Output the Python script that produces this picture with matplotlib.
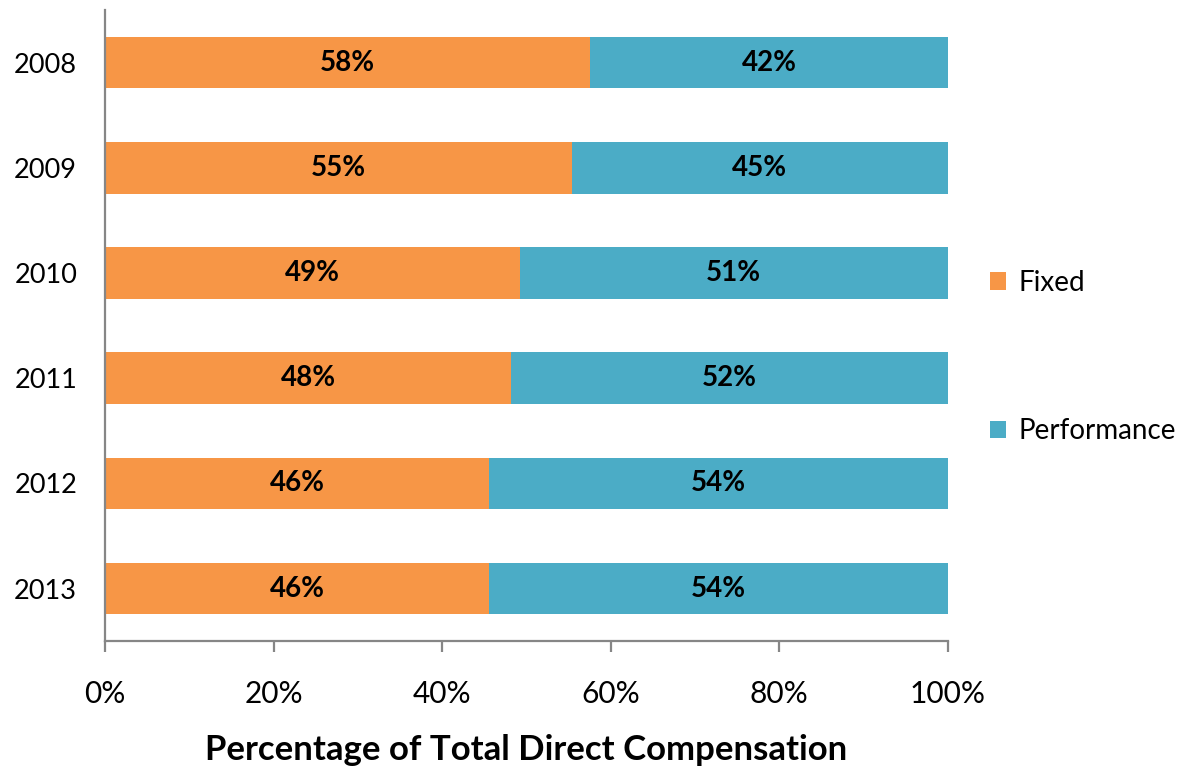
import matplotlib
matplotlib.use("Agg")
import matplotlib.pyplot as plt
import numpy as np

plt.rcParams['font.family'] = ['Lato', 'DejaVu Sans']

years = ['2008', '2009', '2010', '2011', '2012', '2013']
fixed = [57.6, 55.4, 49.2, 48.2, 45.6, 45.6]
performance = [100 - v for v in fixed]
fixed_labels = ['58%', '55%', '49%', '48%', '46%', '46%']
perf_labels = ['42%', '45%', '51%', '52%', '54%', '54%']

c_fixed = '#F79646'
c_perf = '#4BACC6'
axis_gray = '#868686'

fig = plt.figure(figsize=(11.79, 7.67), dpi=100)
ax = fig.add_axes([0.089, 0.164, 0.715, 0.823])

y = np.arange(len(years))
h = 0.49
ax.barh(y, fixed, height=h, color=c_fixed, label='Fixed')
ax.barh(y, performance, left=fixed, height=h, color=c_perf, label='Performance')

# segment labels centred in each part of the bar
for i in range(len(years)):
    ax.text(fixed[i] / 2, y[i], fixed_labels[i], ha='center', va='center',
            fontsize=20, fontweight='bold', color='black')
    ax.text(fixed[i] + performance[i] / 2, y[i], perf_labels[i], ha='center', va='center',
            fontsize=20, fontweight='bold', color='black')

ax.set_xlim(0, 100)
ax.set_ylim(len(years) - 0.5, -0.5)
ax.set_yticks(y)
ax.set_yticklabels(years)
ax.set_xticks(np.arange(0, 101, 20))
ax.set_xticklabels([f'{v}%' for v in range(0, 101, 20)])

for s in ['top', 'right']:
    ax.spines[s].set_visible(False)
for s in ['left', 'bottom']:
    ax.spines[s].set_color(axis_gray)
    ax.spines[s].set_linewidth(1.6)

ax.tick_params(axis='y', length=0, pad=20, labelsize=19.5)
ax.tick_params(axis='x', length=8, width=1.6, color=axis_gray, pad=20, labelsize=21.5)

ax.set_xlabel('Percentage of Total Direct Compensation', fontsize=25,
              fontweight='bold', labelpad=19)

ax.legend(loc='center left', bbox_to_anchor=(1.02, 0.45), frameon=False,
          fontsize=20, handlelength=0.6, handleheight=0.6, handletextpad=0.45,
          labelspacing=4.4)

fig.savefig('out.png', dpi=100)
